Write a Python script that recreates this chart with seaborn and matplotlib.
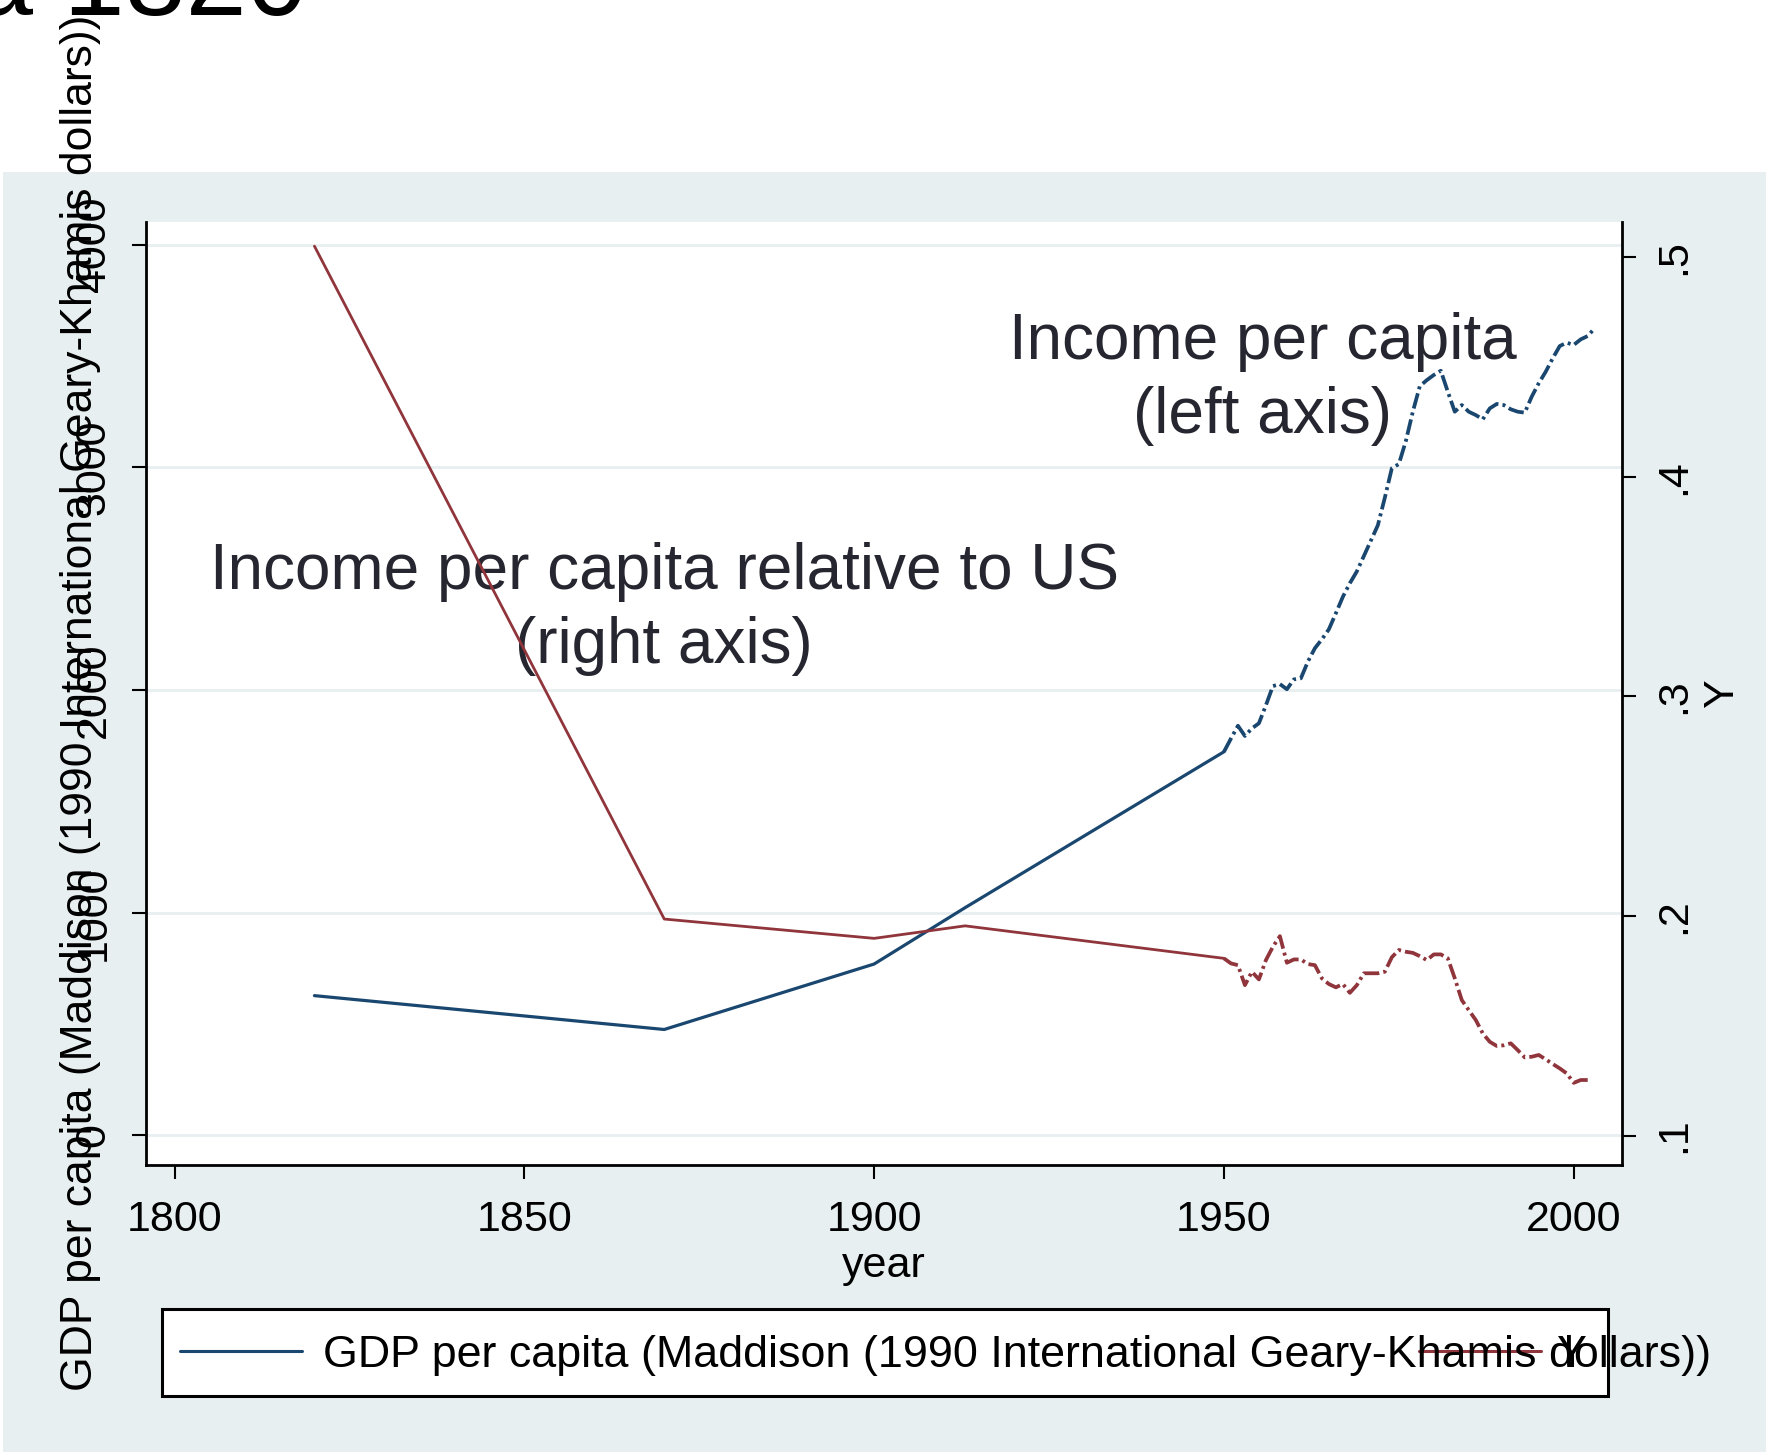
import matplotlib
matplotlib.use("Agg")
import matplotlib.pyplot as plt
import seaborn as sns
from matplotlib.patches import Rectangle
from matplotlib.lines import Line2D

# ---------------- data ----------------
years_bench = [1820, 1870, 1900, 1913, 1950]
gdp_bench = [628, 476, 770, 1023, 1723]
rel_bench = [0.505, 0.1986, 0.1898, 0.1955, 0.1807]

years_gdp_annual = list(range(1950, 2004))
gdp_annual = [1723, 1782, 1840, 1794, 1828, 1851, 1932, 2018, 2027, 2004,
              2048, 2053, 2128, 2188, 2228, 2273, 2345, 2419, 2480, 2533,
              2602, 2671, 2740, 2864, 2996, 3015, 3118, 3250, 3365, 3392,
              3415, 3434, 3340, 3250, 3280, 3250, 3235, 3216, 3265, 3285,
              3280, 3261, 3250, 3246, 3318, 3378, 3430, 3490, 3545, 3560,
              3550, 3575, 3590, 3625]

years_rel_annual = list(range(1950, 2003))
rel_annual = [0.1807, 0.1784, 0.1776, 0.1685, 0.1746, 0.1711, 0.1799, 0.1860, 0.1908, 0.1787,
              0.1802, 0.1802, 0.1781, 0.1776, 0.1716, 0.1690, 0.1675, 0.1690, 0.1650, 0.1685,
              0.1739, 0.1739, 0.1739, 0.1746, 0.1812, 0.1845, 0.1837, 0.1832, 0.1817, 0.1799,
              0.1825, 0.1825, 0.1807, 0.1716, 0.1617, 0.1571, 0.1526, 0.1465, 0.1427, 0.1408,
              0.1411, 0.1420, 0.1389, 0.1356, 0.1359, 0.1367, 0.1347, 0.1326, 0.1306, 0.1283,
              0.1240, 0.1253, 0.1253]

x_ticks = [1800, 1850, 1900, 1950, 2000]
left_ticks = [0, 1000, 2000, 3000, 4000]
right_ticks = [0.1, 0.2, 0.3, 0.4, 0.5]
right_tick_labels = [".1", ".2", ".3", ".4", ".5"]

title_fragment = "a 1820"
y_left_label = "GDP per capita (Maddison (1990 International Geary-Khamis dollars))"
y_right_label = "Y"
x_label = "year"
note_left = "Income per capita\n(left axis)"
note_right = "Income per capita relative to US\n(right axis)"
legend_labels = [y_left_label, "Y"]

# ---------------- style ----------------
sns.set_theme(style="white")
plt.rcParams['font.family'] = ['Liberation Sans', 'DejaVu Sans']

BLUE = "#1a476f"
RED = "#90353b"
BG = "#e8eff1"
NOTE = "#262630"
DASH = (0, (4.2, 1.1, 0.8, 1.1))

W, H = 1768, 1455
fig = plt.figure(figsize=(W / 100, H / 100), dpi=100)
fig.patch.set_facecolor("white")

fig.add_artist(Rectangle((3 / W, 3 / H), (1766 - 3) / W, (1452 - 172) / H,
                         transform=fig.transFigure, facecolor=BG,
                         edgecolor="none", zorder=-5))

ax = fig.add_axes([145.5 / W, (H - 1165) / H, (1622 - 145.5) / W, (1165 - 222) / H])
ax.set_facecolor("white")

sns.lineplot(x=years_bench, y=gdp_bench, ax=ax, color=BLUE, linewidth=2.3,
             errorbar=None, sort=False)
sns.lineplot(x=years_gdp_annual, y=gdp_annual, ax=ax, color=BLUE, linewidth=2.7,
             linestyle=DASH, errorbar=None)

ax2 = ax.twinx()
sns.lineplot(x=years_bench, y=rel_bench, ax=ax2, color=RED, linewidth=2.0,
             errorbar=None, sort=False)
sns.lineplot(x=years_rel_annual, y=rel_annual, ax=ax2, color=RED, linewidth=2.7,
             linestyle=DASH, errorbar=None)

ax.set_xlim(1795.85, 2006.9)
ax.set_ylim(-132.5, 4102)
ax2.set_ylim(0.0866, 0.516)

# grid
ax.set_axisbelow(True)
ax.yaxis.grid(True, color=BG, linewidth=2.0)
ax.xaxis.grid(False)
ax2.grid(False)

# spines
for s in ["top", "right"]:
    ax.spines[s].set_visible(False)
for s in ["left", "bottom"]:
    ax.spines[s].set_color("black")
    ax.spines[s].set_linewidth(2.0)
for s in ["top", "left", "bottom"]:
    ax2.spines[s].set_visible(False)
ax2.spines["right"].set_color("black")
ax2.spines["right"].set_linewidth(2.0)

# ticks
ax.set_xticks(x_ticks)
ax.set_xticklabels([str(t) for t in x_ticks])
ax.set_yticks(left_ticks)
ax.set_yticklabels([str(t) for t in left_ticks])
ax2.set_yticks(right_ticks)
ax2.set_yticklabels(right_tick_labels)

ax.tick_params(axis="x", direction="out", length=10, width=1.5, pad=15,
               labelsize=31, colors="black", bottom=True)
ax.tick_params(axis="y", direction="out", length=10, width=1.5, pad=13,
               labelsize=31, colors="black", left=True)
ax2.tick_params(axis="y", direction="out", length=10, width=1.5, pad=13,
                labelsize=31, colors="black", right=True)
for lab in ax.get_yticklabels():
    lab.set_rotation(90)
    lab.set_va("center")
for lab in ax2.get_yticklabels():
    lab.set_rotation(90)
    lab.set_va("center")

# axis labels
ax.set_xlabel(x_label, fontsize=31, color="black")
ax.xaxis.label.set_va("baseline")
ax.xaxis.set_label_coords(0.5, (1165 - 1277) / 943)

ax.set_ylabel(y_left_label, fontsize=32, color="black")
ax.yaxis.label.set_va("center")
ax.yaxis.set_label_coords((81 - 145.5) / 1476.5, (1165 - 703) / 943)

ax2.set_ylabel(y_right_label, fontsize=31, color="black", rotation=90)
ax2.yaxis.label.set_va("center")
ax2.yaxis.set_label_coords((1722 - 145.5) / 1476.5, 0.501)

# notes
ax.text(1870.0, 2363, note_right, ha="center", va="center", fontsize=46,
        color=NOTE, linespacing=1.30, multialignment="center", zorder=1)
ax.text(1955.5, 3396, note_left, ha="center", va="center", fontsize=46,
        color=NOTE, linespacing=1.30, multialignment="center", zorder=1)

# cut-off title fragment
fig.text(307 / W, 1 - 15 / H, title_fragment, ha="right", va="baseline",
         fontsize=79, color="black")

# legend (Stata-like, drawn manually)
fig.add_artist(Rectangle((162 / W, (H - 1396) / H), (1608 - 162) / W, (1396 - 1309) / H,
                         transform=fig.transFigure, facecolor="white",
                         edgecolor="black", linewidth=2.2, zorder=2))
ky = (H - 1351) / H
fig.add_artist(Line2D([180 / W, 302 / W], [ky, ky], transform=fig.transFigure,
                      color=BLUE, linewidth=2.2, zorder=3))
fig.add_artist(Line2D([1419 / W, 1541 / W], [ky, ky], transform=fig.transFigure,
                      color=RED, linewidth=2.2, zorder=3))
fig.text(323 / W, (H - 1367) / H, legend_labels[0], ha="left", va="baseline",
         fontsize=32.3, color="black", zorder=4)
fig.text(1557 / W, (H - 1367) / H, legend_labels[1], ha="left", va="baseline",
         fontsize=32.3, color="black", zorder=4)

fig.savefig("out.png", dpi=100)
